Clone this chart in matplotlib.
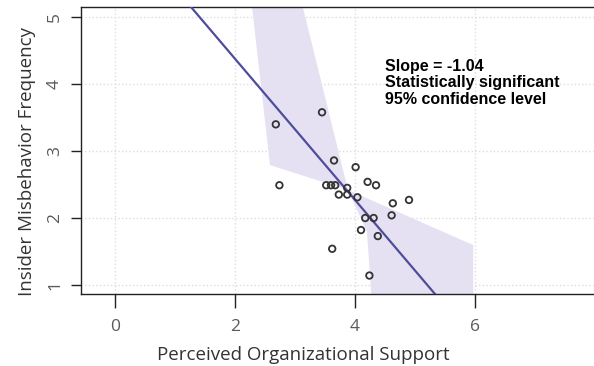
import numpy as np
import matplotlib
matplotlib.use("Agg")
import matplotlib.pyplot as plt

# data
pos_x = [2.68, 3.45, 2.74, 3.65, 4.01, 3.52, 3.60, 3.67, 3.73, 3.87, 3.87, 4.04,
         4.21, 4.35, 4.63, 4.90, 4.61, 4.17, 4.31, 4.10, 4.38, 3.62, 4.24]
misbehavior = [3.40, 3.58, 2.49, 2.86, 2.76, 2.49, 2.49, 2.49, 2.35, 2.45, 2.35, 2.31,
               2.54, 2.49, 2.22, 2.27, 2.04, 2.00, 2.00, 1.82, 1.73, 1.54, 1.14]

line_intercept = 6.49
line_slope = -1.055

# confidence band outline (bow-tie shaped polygon)
band_x = [2.265, 2.583, 3.883, 4.20, 4.28, 5.97, 5.97, 3.883, 3.09]
band_y = [5.30, 2.79, 2.42, 1.79, 0.75, 0.75, 1.596, 2.42, 5.30]

x_ticks = [0, 2, 4, 6]
y_ticks = [1, 2, 3, 4, 5]
annotation = "Slope = -1.04\nStatistically significant\n95% confidence level"

fig = plt.figure(figsize=(5.94, 3.66), dpi=100)
ax = fig.add_axes([81 / 594, 72 / 366, 517 / 594, 287 / 366])

ax.fill(band_x, band_y, color="#e6e1f2", lw=0, zorder=1)

xs = np.array([-1.0, 9.0])
ax.plot(xs, line_intercept + line_slope * xs, color="#4e4d9c", lw=1.6, zorder=3)

ax.scatter(pos_x, misbehavior, s=22, facecolors="none", edgecolors="#333333",
           linewidths=1.3, zorder=4)

ax.text(4.5, 4.38, annotation, fontsize=11.5, fontweight="bold",
        family="Liberation Sans", va="top", ha="left", linespacing=1.13, zorder=5)

ax.set_xlim(-0.567, 8.05)
ax.set_ylim(0.864, 5.154)
ax.set_xticks(x_ticks)
ax.set_yticks(y_ticks)
ax.grid(True, color="#dddddd", linestyle=":", linewidth=1.0, zorder=0)
ax.set_axisbelow(True)

for s in ax.spines.values():
    s.set_color("#222222")
    s.set_linewidth(1.0)

ax.tick_params(direction="out", width=1.0, color="#222222",
               labelsize=12.5, labelcolor="#5a5a5a")
ax.tick_params(axis="x", length=10, pad=8)
ax.tick_params(axis="y", length=7, pad=6)
for lab in ax.get_yticklabels():
    lab.set_rotation(90)
    lab.set_va("center")
for lab in ax.get_xticklabels() + ax.get_yticklabels():
    lab.set_family("Open Sans")

ax.set_xlabel("Perceived Organizational Support", fontsize=13.5, family="Open Sans",
              color="#333333")
ax.set_ylabel("Insider Misbehavior Frequency", fontsize=13.5, family="Open Sans",
              color="#333333")
ax.xaxis.set_label_coords(0.43, -0.2125)
ax.xaxis.label.set_va("center")
ax.yaxis.set_label_coords(-0.1044, 0.46)
ax.yaxis.label.set_va("center")

fig.savefig("out.png", dpi=100)
